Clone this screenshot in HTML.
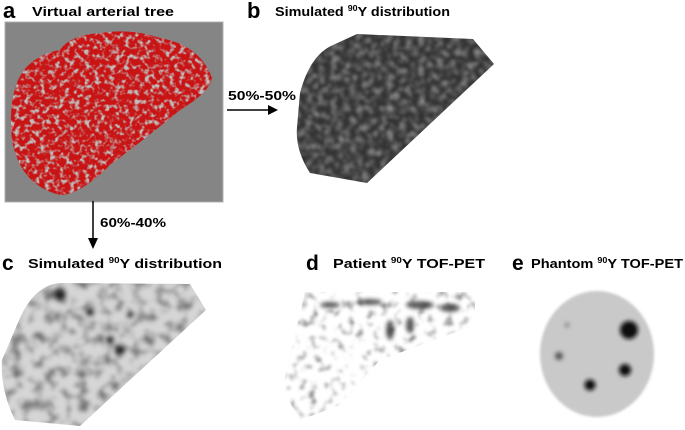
<!DOCTYPE html>
<html><head><meta charset="utf-8"><style>
body{margin:0;background:#fff}
svg{display:block;font-family:"Liberation Sans",Arial,sans-serif;font-weight:bold}
</style></head><body>
<svg width="685" height="430" viewBox="0 0 685 430" xmlns="http://www.w3.org/2000/svg">
<defs>
<filter id="noiseB" x="0" y="0" width="100%" height="100%">
<feTurbulence type="fractalNoise" baseFrequency="0.16" numOctaves="2" seed="3"/>
<feColorMatrix type="matrix" values="0 0 0 0 0.3  0 0 0 0 0.3  0 0 0 0 0.3  2.2 0 0 0 -0.9"/>
<feGaussianBlur stdDeviation="0.8"/>
</filter>
<filter id="tree" x="0" y="0" width="100%" height="100%">
<feTurbulence type="fractalNoise" baseFrequency="0.2" numOctaves="2" seed="7"/>
<feColorMatrix type="matrix" values="0 0 0 0 0.52  0 0 0 0 0.52  0 0 0 0 0.52  4 0 0 0 -1.9"/>
</filter>
<filter id="speckC" x="0" y="0" width="100%" height="100%">
<feTurbulence type="fractalNoise" baseFrequency="0.09" numOctaves="2" seed="11"/>
<feColorMatrix type="matrix" values="0 0 0 0 0.15  0 0 0 0 0.15  0 0 0 0 0.15  2.6 0 0 0 -1.15"/>
<feGaussianBlur stdDeviation="1.2"/>
</filter>
<filter id="speckD" x="0" y="0" width="100%" height="100%">
<feTurbulence type="fractalNoise" baseFrequency="0.11" numOctaves="2" seed="5"/>
<feColorMatrix type="matrix" values="0 0 0 0 0.2  0 0 0 0 0.2  0 0 0 0 0.2  3 0 0 0 -1.6"/>
<feGaussianBlur stdDeviation="1.2"/>
</filter>
<filter id="blur2"><feGaussianBlur stdDeviation="2"/></filter>
<filter id="blur1"><feGaussianBlur stdDeviation="1.2"/></filter>
<clipPath id="clipB"><path d="M300,93 Q310,55 333,45 L357,34 L473,39 L494,64 L367,183 L310,173 Q295,150 297,127 Z"/></clipPath>
<clipPath id="clipTree"><path d="M18,80 Q30,55 60,50 Q70,35 100,33 Q130,28 160,38 Q200,45 212,78 Q210,92 180,110 Q150,135 110,165 Q80,195 60,195 Q20,185 12,140 Q8,105 18,80 Z"/></clipPath>
<clipPath id="clipC"><path d="M20,318 Q35,285 60,283 L190,284 L206,310 L80,426 L15,420 Q0,390 2,360 Z"/></clipPath>
<clipPath id="clipD"><path d="M305,292 L475,292 L475,325 L380,360 L340,405 L300,420 L282,390 Z"/></clipPath>
</defs>

<g>
<text x="3" y="18" font-size="22">a</text>
<text x="32" y="16" font-size="13" textLength="142" lengthAdjust="spacingAndGlyphs">Virtual arterial tree</text>
<rect x="5" y="22" width="218" height="180" fill="#858585" stroke="#b0b0b0" stroke-width="1"/>
<g clip-path="url(#clipTree)">
<rect x="5" y="22" width="218" height="180" fill="#c81414"/>
<rect x="5" y="22" width="218" height="180" filter="url(#tree)"/>
</g>
</g>

<text x="228" y="100" font-size="12.5" textLength="68" lengthAdjust="spacingAndGlyphs">50%-50%</text>
<line x1="227" y1="110" x2="270" y2="110" stroke="#000" stroke-width="1.5"/>
<path d="M268,105 L278,110 L268,115 Z" fill="#000"/>

<line x1="93" y1="201" x2="93" y2="240" stroke="#000" stroke-width="1.5"/>
<path d="M88,238 L93,249 L98,238 Z" fill="#000"/>
<text x="100" y="227" font-size="12.5" textLength="66" lengthAdjust="spacingAndGlyphs">60%-40%</text>

<g>
<text x="247" y="18" font-size="22">b</text>
<text x="275" y="16" font-size="13" textLength="175" lengthAdjust="spacingAndGlyphs">Simulated <tspan font-size="8" dy="-5">90</tspan><tspan dy="5">Y distribution</tspan></text>
<g clip-path="url(#clipB)" filter="url(#blur1)">
<rect x="290" y="30" width="210" height="160" fill="#333"/>
<rect x="290" y="30" width="210" height="160" filter="url(#noiseB)"/>
</g>
</g>

<g>
<text x="2" y="270" font-size="21">c</text>
<text x="28" y="268" font-size="13" textLength="194" lengthAdjust="spacingAndGlyphs">Simulated <tspan font-size="8" dy="-5">90</tspan><tspan dy="5">Y distribution</tspan></text>
<g clip-path="url(#clipC)" filter="url(#blur1)">
<rect x="0" y="280" width="210" height="150" fill="#d6d6d6"/>
<rect x="0" y="280" width="210" height="150" filter="url(#speckC)"/>
<g fill="#222" filter="url(#blur2)">
<circle cx="60" cy="295" r="6"/><circle cx="110" cy="340" r="4"/><circle cx="120" cy="350" r="5"/>
<circle cx="90" cy="312" r="4"/><circle cx="130" cy="315" r="3"/>
</g>
</g>
</g>

<g>
<text x="306" y="270" font-size="21">d</text>
<text x="333" y="268" font-size="13" textLength="152" lengthAdjust="spacingAndGlyphs">Patient <tspan font-size="8" dy="-5">90</tspan><tspan dy="5">Y TOF-PET</tspan></text>
<g clip-path="url(#clipD)">
<rect x="270" y="290" width="210" height="140" filter="url(#speckD)"/>
<g fill="#333" filter="url(#blur2)" opacity="0.8">
<ellipse cx="330" cy="305" rx="10" ry="3"/><ellipse cx="370" cy="302" rx="12" ry="3"/>
<ellipse cx="420" cy="305" rx="14" ry="4"/><ellipse cx="450" cy="308" rx="10" ry="4"/>
<ellipse cx="390" cy="330" rx="4" ry="10"/><ellipse cx="410" cy="325" rx="4" ry="8"/>
</g>
</g>
</g>

<g>
<text x="512" y="270" font-size="21">e</text>
<text x="531" y="268" font-size="13" textLength="152" lengthAdjust="spacingAndGlyphs">Phantom <tspan font-size="8" dy="-5">90</tspan><tspan dy="5">Y TOF-PET</tspan></text>
<g filter="url(#blur1)">
<ellipse cx="597" cy="354" rx="57" ry="63" fill="#c9c9c9"/>
</g>
<g fill="#111" filter="url(#blur2)">
<circle cx="629" cy="330" r="9"/>
<circle cx="625" cy="370" r="6"/>
<circle cx="590" cy="385" r="5.5"/>
<circle cx="559" cy="356" r="4" fill="#555"/>
<circle cx="567" cy="325" r="2.5" fill="#888"/>
</g>
</g>
</svg>
</body></html>
